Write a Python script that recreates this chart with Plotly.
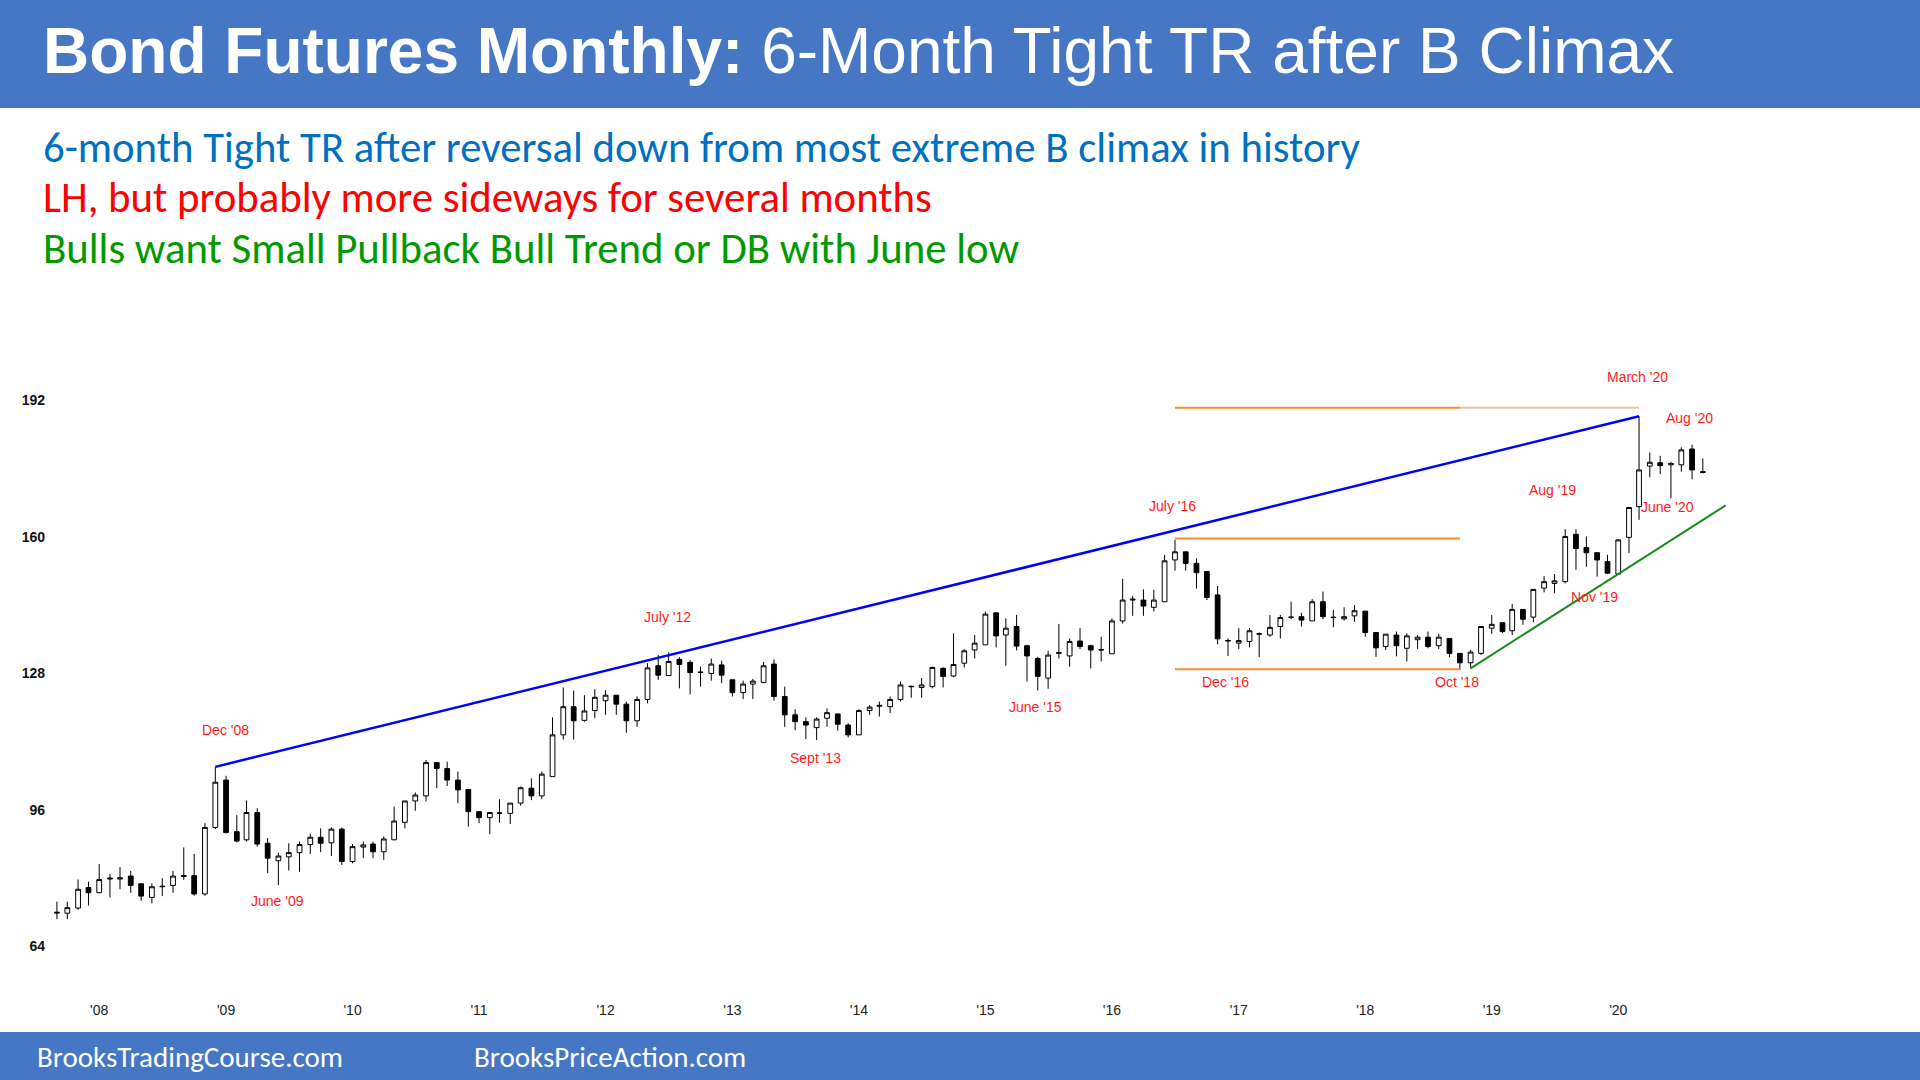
import pandas as pd
import plotly.graph_objects as go

# ------------------------------------------------------------
# Monthly bond futures bars, Sep 2007 .. Sep 2020
# ------------------------------------------------------------
months = pd.date_range("2007-09-01", "2020-09-01", freq="MS")

opens = [
    71.8, 71.8, 73.0, 77.8,
    76.6, 79.8, 79.8, 80.5, 78.7, 75.5, 78.0, 78.3, 80.4, 80.6, 76.3, 91.9,
    103.0, 90.9, 89.0, 95.4, 88.2, 84.1, 85.0, 86.0, 87.9, 89.6, 88.3, 91.5,
    83.9, 87.3, 88.0, 86.2, 89.0, 93.1, 98.1, 99.3, 107.1, 105.7, 103.0, 100.8,
    95.6, 94.2, 95.2, 95.2, 97.6, 101.1, 99.3, 103.8, 113.6, 120.2, 117.0, 119.3,
    121.6, 122.9, 120.8, 116.9, 121.9, 129.8, 127.5, 131.3, 130.6, 128.2, 128.0, 130.0,
    126.5, 123.5, 125.5, 125.9, 130.2, 122.6, 118.3, 116.7, 115.3, 117.5, 118.5, 115.9,
    113.6, 119.3, 120.3, 120.2, 121.9, 125.0, 124.7, 124.9, 129.2, 127.4, 130.4, 133.5,
    134.7, 142.2, 137.0, 139.0, 134.5, 131.5, 126.9, 132.7, 132.1, 135.6, 134.5, 133.6,
    132.6, 140.3, 145.2, 145.2, 143.5, 144.8, 154.6, 156.5, 153.8, 151.9, 146.4, 135.6,
    135.1, 135.5, 137.2, 137.0, 139.0, 141.1, 141.3, 140.3, 144.8, 141.2, 140.8, 141.5,
    142.6, 137.6, 134.3, 137.0, 133.9, 135.9, 136.5, 134.5, 136.2, 132.7, 130.5, 132.7,
    138.6, 139.9, 138.0, 143.0, 141.2, 148.0, 149.1, 149.5, 160.6, 157.5, 156.3, 154.2,
    151.3, 159.9, 167.1, 176.6, 177.4, 176.9, 176.9, 180.6, 175.3,
]
highs = [
    74.5, 74.5, 79.7, 79.2,
    83.3, 81.0, 82.6, 81.7, 78.8, 78.8, 80.0, 81.7, 87.2, 85.7, 92.9, 106.1,
    104.0, 94.8, 98.2, 96.4, 89.4, 86.0, 88.2, 88.6, 90.4, 91.7, 91.9, 91.9,
    88.0, 88.6, 88.6, 89.8, 96.8, 98.1, 100.1, 107.7, 107.1, 107.3, 105.0, 100.8,
    95.6, 95.4, 98.5, 97.6, 101.5, 103.4, 105.0, 117.7, 124.7, 124.0, 122.9, 124.3,
    124.1, 122.9, 121.4, 122.6, 130.4, 132.3, 132.9, 131.8, 131.1, 129.6, 131.5, 131.0,
    126.5, 126.3, 126.7, 130.7, 131.3, 124.9, 119.6, 117.7, 117.7, 119.8, 118.6, 116.3,
    119.6, 120.6, 121.4, 122.6, 126.1, 125.1, 126.9, 129.6, 129.4, 137.4, 133.7, 137.0,
    142.5, 142.2, 140.9, 141.7, 134.7, 131.9, 133.3, 139.6, 136.2, 138.6, 134.7, 136.6,
    140.9, 150.2, 146.2, 147.7, 147.6, 155.8, 159.3, 156.5, 155.0, 151.9, 148.5, 136.2,
    138.6, 138.6, 137.6, 141.7, 141.7, 144.8, 142.2, 145.4, 147.2, 142.9, 143.5, 144.0,
    142.6, 137.6, 137.2, 137.8, 137.4, 137.0, 137.8, 137.3, 136.2, 132.7, 133.5, 139.1,
    141.7, 139.9, 144.3, 143.0, 147.7, 150.8, 151.3, 161.8, 161.8, 160.1, 156.3, 155.8,
    159.4, 166.9, 188.3, 179.8, 179.0, 177.6, 181.0, 181.6, 178.4,
]
lows = [
    70.4, 70.4, 72.6, 73.6,
    76.5, 75.5, 77.4, 76.6, 74.7, 74.1, 75.8, 76.6, 79.6, 75.9, 75.9, 91.5,
    90.5, 88.4, 88.6, 87.4, 81.2, 78.4, 81.8, 81.5, 85.7, 86.1, 85.2, 83.1,
    83.5, 84.7, 84.7, 84.3, 88.9, 91.7, 95.8, 98.0, 101.1, 101.6, 97.6, 92.1,
    92.9, 90.3, 93.0, 92.7, 97.0, 98.3, 98.5, 103.8, 112.5, 112.5, 116.7, 117.5,
    118.3, 118.3, 114.1, 115.5, 121.0, 126.5, 127.5, 124.5, 123.1, 124.9, 126.3, 125.7,
    122.6, 122.0, 122.0, 125.7, 121.6, 115.5, 114.7, 112.6, 112.4, 115.5, 114.6, 113.0,
    113.6, 118.3, 117.9, 118.7, 121.4, 122.3, 122.3, 124.5, 124.7, 127.1, 129.4, 131.5,
    134.7, 134.1, 129.8, 133.4, 126.1, 124.0, 124.4, 131.5, 129.6, 133.7, 129.2, 130.8,
    132.6, 139.7, 141.5, 141.5, 142.5, 144.8, 152.1, 152.1, 147.9, 145.2, 134.8, 132.1,
    133.7, 134.1, 131.8, 136.6, 136.2, 140.7, 139.0, 140.3, 140.7, 138.8, 140.4, 140.1,
    136.6, 131.9, 133.5, 132.0, 130.8, 133.7, 133.9, 133.7, 131.8, 128.8, 129.2, 132.3,
    137.3, 137.5, 137.0, 139.4, 140.0, 147.0, 146.8, 149.1, 152.3, 153.0, 150.7, 151.3,
    151.3, 156.2, 164.0, 174.0, 174.7, 169.0, 175.3, 173.5, 174.9,
]
closes = [
    72.0, 73.1, 77.4, 76.6,
    79.7, 80.0, 80.1, 78.3, 75.8, 78.0, 78.1, 80.5, 80.6, 76.3, 91.9, 102.5,
    90.7, 88.7, 95.4, 88.0, 84.7, 85.2, 86.0, 87.9, 89.6, 88.2, 91.5, 83.9,
    87.4, 87.8, 86.2, 89.2, 93.4, 98.1, 99.5, 107.1, 105.7, 103.0, 100.7, 95.6,
    94.2, 95.4, 95.3, 97.6, 101.2, 99.3, 104.4, 113.6, 120.2, 116.9, 119.2, 122.4,
    122.9, 120.8, 116.9, 121.9, 129.3, 127.6, 130.8, 130.1, 128.2, 128.3, 130.2, 127.6,
    123.5, 125.5, 126.2, 129.8, 122.6, 118.3, 116.7, 115.9, 117.3, 118.8, 116.1, 113.6,
    119.3, 120.1, 120.5, 121.9, 125.3, 124.9, 125.3, 129.4, 127.3, 130.1, 133.3, 135.1,
    141.9, 136.8, 138.6, 134.4, 132.1, 127.3, 132.3, 132.9, 135.5, 134.3, 133.5, 133.5,
    140.3, 145.2, 145.4, 143.8, 145.2, 154.4, 156.5, 153.8, 151.6, 145.8, 136.1, 135.7,
    135.7, 138.0, 137.3, 138.8, 141.1, 141.2, 140.5, 144.8, 141.3, 141.1, 141.3, 142.7,
    137.6, 134.0, 137.2, 134.5, 136.8, 136.5, 134.3, 136.5, 132.7, 130.5, 133.0, 139.0,
    139.5, 137.8, 143.0, 140.7, 147.7, 149.5, 149.7, 160.1, 157.3, 156.3, 154.6, 151.5,
    159.3, 166.9, 175.7, 177.5, 176.7, 177.2, 180.4, 175.7, 175.1,
]

# axis ticks
year_ticks = [f"{y}-01-01" for y in range(2008, 2021)]
year_labels = [f"'{y % 100:02d}" for y in range(2008, 2021)]
price_ticks = [64, 96, 128, 160, 192]

# drawn lines
wedge_x = ["2008-12-01", "2020-03-01"]
wedge_y = [106.1, 188.3]
tr_x = ["2016-07-01", "2018-10-01"]
tr_levels = [190.3, 159.6, 129.0]
ext_x = ["2018-10-01", "2020-03-01"]
ext_y = [190.3, 190.3]
trend_x = ["2018-11-01", "2020-11-06"]
trend_y = [129.2, 167.4]

# red bar labels
label_text = ["Dec '08", "June '09", "July '12", "Sept '13", "June '15", "July '16",
              "Dec '16", "Oct '18", "Aug '19", "Nov '19", "June '20", "March '20", "Aug '20"]
label_x = ["2008-12-29", "2009-05-30", "2012-06-27", "2013-08-28", "2015-05-26", "2016-06-25",
           "2016-11-25", "2018-09-22", "2019-06-25", "2019-10-25", "2020-05-22", "2020-02-25", "2020-07-25"]
label_y = [114.7, 74.7, 141.2, 108.2, 120.2, 167.3, 126.0, 126.0, 171.0, 145.8, 167.0, 197.6, 187.8]

W, H = 1920, 1080
BAND = "#4677C5"

fig = go.Figure()

fig.add_trace(go.Candlestick(
    x=months, open=opens, high=highs, low=lows, close=closes,
    increasing=dict(line=dict(color="black", width=1), fillcolor="white"),
    decreasing=dict(line=dict(color="black", width=1), fillcolor="black"),
    whiskerwidth=0, showlegend=False, hoverinfo="skip",
))

fig.add_trace(go.Scatter(x=wedge_x, y=wedge_y, mode="lines",
                         line=dict(color="#0000FF", width=2.5), hoverinfo="skip"))
for lvl in tr_levels:
    fig.add_trace(go.Scatter(x=tr_x, y=[lvl, lvl], mode="lines",
                             line=dict(color="#F98B2A", width=2), hoverinfo="skip"))
fig.add_trace(go.Scatter(x=ext_x, y=ext_y, mode="lines",
                         line=dict(color="#DEC898", width=2), hoverinfo="skip"))
fig.add_trace(go.Scatter(x=trend_x, y=trend_y, mode="lines",
                         line=dict(color="#1A8A1A", width=2), hoverinfo="skip"))

for t, x, y in zip(label_text, label_x, label_y):
    fig.add_annotation(x=x, y=y, text=t, showarrow=False, xref="x", yref="y",
                       font=dict(family="Liberation Sans", size=14, color="#FF1A1A"))

# header / footer bands
fig.add_shape(type="rect", xref="paper", yref="paper", x0=0, x1=1, y0=1 - 108 / H, y1=1,
              fillcolor=BAND, line=dict(width=0), layer="below")
fig.add_shape(type="rect", xref="paper", yref="paper", x0=0, x1=1, y0=0, y1=48 / H,
              fillcolor=BAND, line=dict(width=0), layer="below")

fig.add_annotation(x=41 / W, y=1 - 51 / H, xref="paper", yref="paper", xanchor="left", yanchor="middle",
                   text="<b>Bond Futures Monthly:</b> 6-Month Tight TR after B Climax", showarrow=False,
                   font=dict(family="Liberation Sans", size=64, color="white"))

sub_font = "Carlito, Lato, sans-serif"
subs = [
    ("6-month Tight TR after reversal down from most extreme B climax in history", "#0070C0", 147),
    ("LH, but probably more sideways for several months", "#FF0000", 197),
    ("Bulls want Small Pullback Bull Trend or DB with June low", "#009A00", 248),
]
for txt, col, yc in subs:
    fig.add_annotation(x=41 / W, y=1 - yc / H, xref="paper", yref="paper", xanchor="left", yanchor="middle",
                       text=txt, showarrow=False, font=dict(family=sub_font, size=42.8, color=col))

fig.add_annotation(x=35 / W, y=23 / H, xref="paper", yref="paper", xanchor="left", yanchor="middle",
                   text="BrooksTradingCourse.com", showarrow=False,
                   font=dict(family=sub_font, size=29, color="white"))
fig.add_annotation(x=472 / W, y=23 / H, xref="paper", yref="paper", xanchor="left", yanchor="middle",
                   text="BrooksPriceAction.com", showarrow=False,
                   font=dict(family=sub_font, size=29, color="white"))

fig.update_layout(
    width=W, height=H,
    margin=dict(l=0, r=0, t=0, b=0),
    paper_bgcolor="white", plot_bgcolor="white",
    showlegend=False,
    xaxis=dict(domain=[50 / W, 1760 / W], range=["2007-08-12", "2021-02-13"],
               tickvals=year_ticks, ticktext=year_labels, ticks="",
               showgrid=False, zeroline=False, showline=False, automargin=False,
               rangeslider=dict(visible=False),
               tickfont=dict(family="Liberation Sans", size=14, color="#222222")),
    yaxis=dict(domain=[80 / H, 750 / H], range=[51.45, 208.5],
               tickvals=price_ticks, ticktext=[f"<b>{v}</b>" for v in price_ticks], ticks="",
               ticklabelstandoff=4,
               showgrid=False, zeroline=False, showline=False, automargin=False,
               tickfont=dict(family="Liberation Sans", size=14, color="#111111")),
)

fig.write_html("out.html", config={"displayModeBar": False},
               post_script="document.body.style.margin='0';")
